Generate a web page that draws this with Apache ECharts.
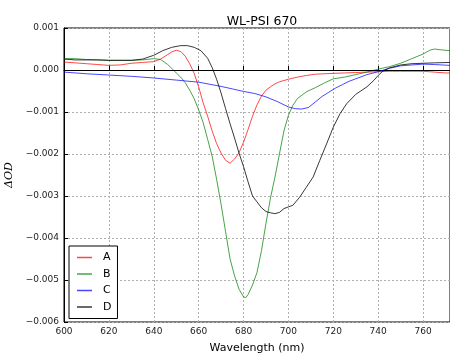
<!DOCTYPE html>
<html>
<head>
<meta charset="utf-8">
<script src="https://cdn.jsdelivr.net/npm/echarts@6/dist/echarts.min.js"></script>
<style>html,body{margin:0;padding:0;background:#fff}#c{width:450px;height:354px}</style>
</head>
<body>
<div id="c"></div>
<script>
// Values in units of 1e-3 ΔOD
var waveA = [600,605,610,615,620,625,630,635,640,643,646,648,650,652,654,656,658,660,662,664,666,668,670,672,674,676,678,680,682,684,686,688,690,692,694,696,698,700,704,708,712,716,720,725,730,735,740,745,750,755,760,765,770,772];
var seriesA = [0.19,0.17,0.15,0.13,0.11,0.12,0.16,0.18,0.20,0.26,0.36,0.43,0.47,0.44,0.33,0.15,-0.08,-0.40,-0.78,-1.10,-1.45,-1.75,-1.98,-2.15,-2.22,-2.12,-1.97,-1.72,-1.42,-1.10,-0.83,-0.62,-0.48,-0.40,-0.33,-0.28,-0.25,-0.22,-0.17,-0.13,-0.10,-0.09,-0.08,-0.07,-0.06,-0.05,-0.04,-0.03,-0.03,-0.03,-0.03,-0.05,-0.07,-0.07];

var waveB = [600,605,610,615,620,625,630,635,640,643,646,648,650,652,654,656,658,660,662,664,666,668,670,672,674,676,678,680,681,682,684,686,688,690,692,694,696,698,700,702,704,706,708,710,712,716,720,725,730,735,740,745,750,755,760,763,765,768,772];
var seriesB = [0.27,0.27,0.25,0.24,0.23,0.23,0.23,0.24,0.27,0.25,0.14,0.04,-0.07,-0.17,-0.30,-0.48,-0.68,-0.95,-1.25,-1.65,-2.05,-2.60,-3.20,-3.85,-4.50,-4.90,-5.22,-5.40,-5.42,-5.35,-5.12,-4.82,-4.30,-3.65,-3.05,-2.55,-2.00,-1.45,-1.08,-0.84,-0.68,-0.60,-0.52,-0.47,-0.42,-0.31,-0.21,-0.17,-0.11,-0.05,0.02,0.08,0.16,0.27,0.38,0.47,0.50,0.48,0.46];

var waveC = [600,610,620,630,640,650,660,665,670,675,680,685,690,695,700,703,706,709,712,715,718,721,724,727,730,735,740,745,750,755,760,765,772];
var seriesC = [-0.05,-0.09,-0.12,-0.15,-0.19,-0.24,-0.29,-0.34,-0.39,-0.45,-0.51,-0.56,-0.64,-0.75,-0.88,-0.92,-0.93,-0.89,-0.76,-0.63,-0.53,-0.43,-0.35,-0.27,-0.21,-0.11,-0.04,0.04,0.10,0.12,0.14,0.13,0.11];

var waveD = [600,605,610,615,620,625,630,635,640,644,648,652,655,658,661,664,666,668,670,672,674,676,678,680,682,684,686,688,690,692,694,696,698,700,702,705,708,711,714,717,720,723,726,730,735,738,740,742,745,750,755,760,765,772];
var seriesD = [0.26,0.24,0.24,0.24,0.23,0.23,0.23,0.26,0.35,0.46,0.54,0.58,0.58,0.54,0.46,0.28,0.06,-0.22,-0.55,-0.92,-1.28,-1.62,-1.98,-2.30,-2.66,-3.00,-3.14,-3.28,-3.37,-3.40,-3.42,-3.39,-3.30,-3.26,-3.22,-3.03,-2.79,-2.55,-2.15,-1.76,-1.36,-1.04,-0.80,-0.58,-0.40,-0.25,-0.13,-0.03,0.05,0.12,0.15,0.16,0.17,0.18];

var seriesNames = ['A','B','C','D'];
var xTicks = {min:600, max:772, interval:20};
var yTicks = {min:-6, max:1, interval:1};

function pairs(w, v){ return w.map(function(x,i){ return [x, v[i]]; }); }
var colors = ['rgba(255,0,0,0.72)','rgba(0,128,0,0.72)','rgba(0,0,255,0.72)','rgba(0,0,0,0.78)'];
var datas = [pairs(waveA,seriesA), pairs(waveB,seriesB), pairs(waveC,seriesC), pairs(waveD,seriesD)];

var chart = echarts.init(document.getElementById('c'), null, {renderer:'canvas'});
var font = 'DejaVu Sans';
var series = seriesNames.map(function(n,i){
  return {name:n, type:'line', data:datas[i], symbol:'none', smooth:false,
    lineStyle:{color:colors[i], width:1}, itemStyle:{color:colors[i]}, z:3+i, animation:false};
});
series.push({type:'line', data:[], markLine:{silent:true, symbol:'none', label:{show:false},
  lineStyle:{color:'#000', width:1, type:'solid'}, data:[{yAxis:0}]}, z:2, animation:false});

chart.setOption({
  animation:false,
  title:{text:'WL-PSI 670', left:257, top:10, textAlign:'center',
    textStyle:{fontFamily:font, fontSize:12.5, fontWeight:'normal', color:'#000'}},
  grid:{left:64, top:28, right:0, bottom:32, show:true, borderColor:'#000', borderWidth:1,
    containLabel:false, outerBoundsMode:'none'},
  legend:{data:seriesNames, orient:'vertical', left:69, top:246, padding:[5,6,5,8],
    backgroundColor:'#fff', borderColor:'#000', borderWidth:1,
    icon:'rect', itemWidth:15, itemHeight:1.5, itemGap:3.5,
    textStyle:{fontFamily:font, fontSize:11, color:'#000', padding:[0,0,0,6], lineHeight:13}},
  xAxis:{type:'value', min:xTicks.min, max:xTicks.max, interval:xTicks.interval,
    name:'Wavelength (nm)', nameLocation:'middle', nameGap:21,
    nameTextStyle:{fontFamily:font, fontSize:11, color:'#000'},
    axisLine:{show:true, lineStyle:{color:'#000'}},
    axisTick:{show:true, inside:true, length:4, lineStyle:{color:'#000'}},
    axisLabel:{fontFamily:font, fontSize:9, color:'#222', margin:5, showMaxLabel:false},
    splitLine:{show:true, lineStyle:{color:'#b0b0b0', type:[2,2], width:1}}},
  yAxis:{type:'value', min:yTicks.min, max:yTicks.max, interval:yTicks.interval,
    name:'ΔOD', nameLocation:'middle', nameGap:43,
    nameTextStyle:{fontFamily:'DejaVu Serif', fontStyle:'italic', fontSize:11, color:'#000'},
    axisLine:{show:true, lineStyle:{color:'#000'}},
    axisTick:{show:true, inside:true, length:4, lineStyle:{color:'#000'}},
    axisLabel:{fontFamily:font, fontSize:9, color:'#222', margin:5,
      formatter:function(v){ var s=(Math.abs(v)<1e-9?0:v/1000).toFixed(3); return s.replace('-','\u2212'); }},
    splitLine:{show:true, lineStyle:{color:'#b0b0b0', type:[2,2], width:1}}},
  series: series
});
</script>
</body>
</html>
